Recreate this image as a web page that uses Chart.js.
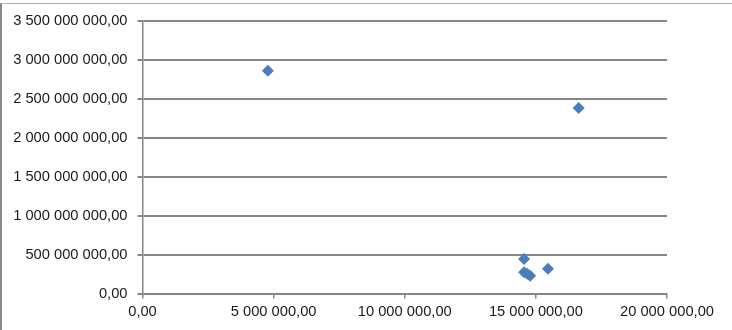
<!DOCTYPE html>
<html>
<head>
<meta charset="utf-8">
<script src="https://cdn.jsdelivr.net/npm/chart.js@4/dist/chart.umd.min.js"></script>
<style>
  html, body { margin: 0; padding: 0; background: #fff; }
  #wrap { position: relative; width: 732px; height: 330px; overflow: hidden; }
  #frame { position: absolute; left: 0; top: 3px; width: 730px; height: 327px;
           border-top: 1px solid #b4b4b4; border-left: 2px solid #8a8a8a; pointer-events: none; }
  canvas { position: absolute; left: 0; top: 0; }
</style>
</head>
<body>
<div id="wrap">
  <canvas id="c" width="732" height="330"></canvas>
  <div id="frame"></div>
</div>
<script>
// Data
const xValues = [4780000, 16630000, 14550000, 14550000, 14670000, 14780000, 15460000];
const yValues = [2861000000, 2384000000, 442000000, 274000000, 255000000, 229000000, 317000000];
const xTicks = [0, 5000000, 10000000, 15000000, 20000000];
const yTicks = [0, 500000000, 1000000000, 1500000000, 2000000000, 2500000000, 3000000000, 3500000000];

function fmt(v) {
  const s = Math.round(v).toString().replace(/\B(?=(\d{3})+(?!\d))/g, ' ');
  return s + ',00';
}

const points = xValues.map((x, i) => ({ x: x, y: yValues[i] }));

const font = { family: 'Liberation Sans', size: 14.7 };

new Chart(document.getElementById('c'), {
  type: 'scatter',
  data: {
    datasets: [{
      data: points,
      pointStyle: 'rectRot',
      pointRadius: 6,
      pointHoverRadius: 6,
      backgroundColor: '#4a7ebb',
      borderColor: '#4a7ebb',
      borderWidth: 0
    }]
  },
  options: {
    responsive: false,
    animation: false,
    events: [],
    layout: { padding: { left: 0, right: 65, top: 21, bottom: 0 } },
    plugins: { legend: { display: false }, tooltip: { enabled: false } },
    scales: {
      x: {
        type: 'linear',
        min: 0, max: 20000000,
        afterBuildTicks: (s) => { s.ticks = xTicks.map(v => ({ value: v })); },
        afterFit: (s) => { s.height = 36.5; },
        ticks: { font: font, color: '#1a1a1a', padding: 5, maxRotation: 0, callback: (v) => fmt(v) },
        grid: { drawOnChartArea: false, drawTicks: true, tickLength: 5, color: '#868686', lineWidth: 1.5 },
        border: { display: true, color: '#868686', width: 1.5 }
      },
      y: {
        type: 'linear',
        min: 0, max: 3500000000,
        afterBuildTicks: (s) => { s.ticks = yTicks.map(v => ({ value: v })); },
        afterFit: (s) => { s.width = 142.5; },
        ticks: { font: font, color: '#1a1a1a', padding: 10, callback: (v) => fmt(v) },
        grid: { drawOnChartArea: true, drawTicks: true, tickLength: 5, color: '#868686', lineWidth: 2 },
        border: { display: true, color: '#868686', width: 1.5 }
      }
    }
  }
});
</script>
</body>
</html>
